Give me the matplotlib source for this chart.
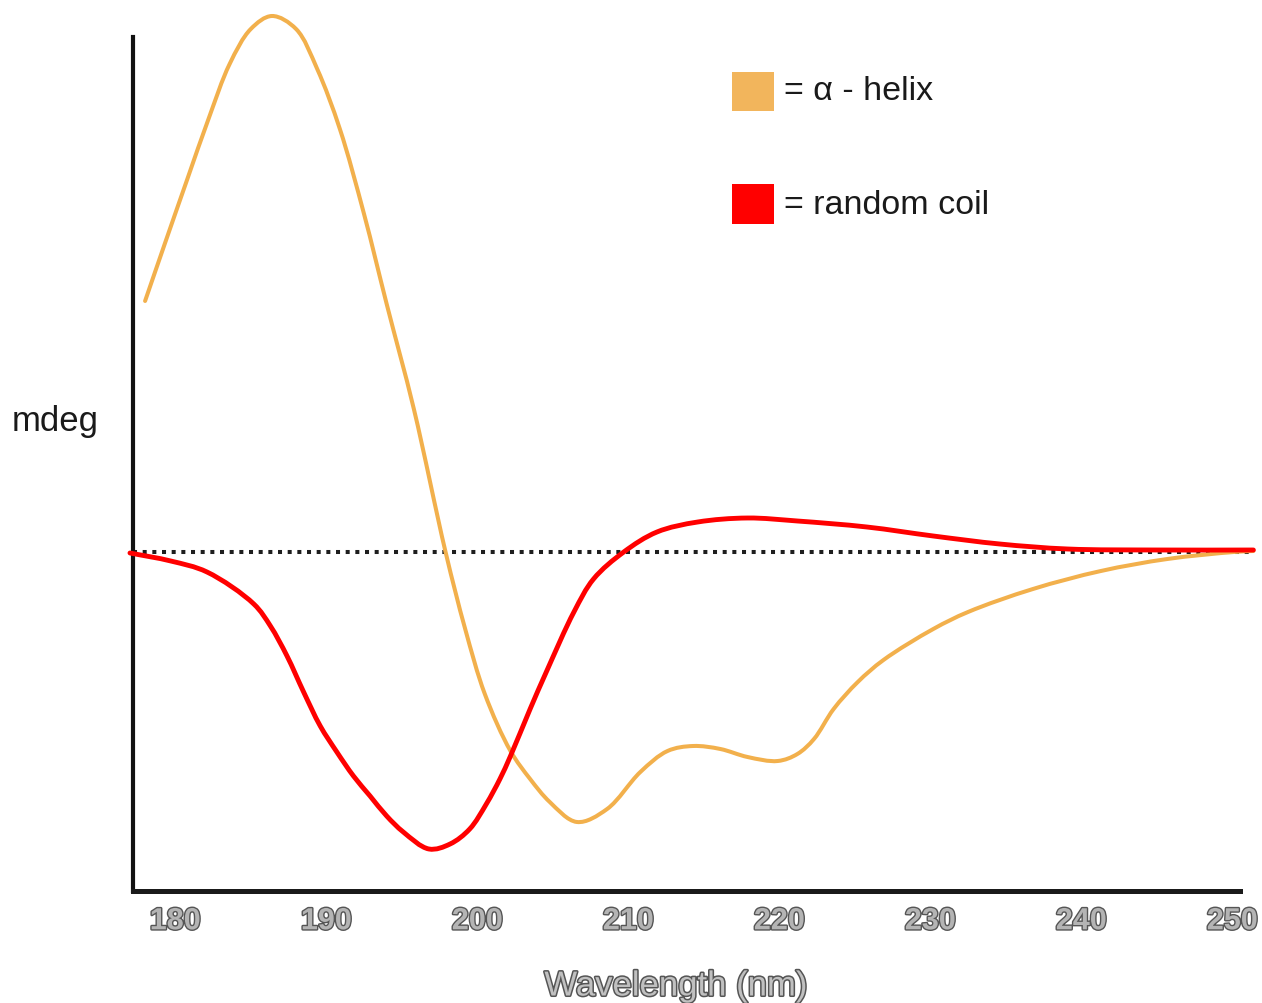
import matplotlib
matplotlib.use("Agg")
import matplotlib.pyplot as plt
import matplotlib.patheffects as pe
from matplotlib.patches import Rectangle, PathPatch
from matplotlib.path import Path

# Wavelength (nm) and ellipticity (arbitrary mdeg units) for each secondary structure
helix_wl = [178.0, 179.3, 180.8, 182.2, 183.6, 185.0, 186.4, 188.0, 189.4, 190.9,
            192.5, 194.0, 195.8, 197.9, 199.2, 200.5, 202.2, 203.5, 204.8, 206.6,
            208.6, 210.8, 212.6, 214.3, 216.1, 217.9, 219.9, 221.2, 222.3, 223.6,
            225.2, 226.9, 230.2, 232.5, 236.8, 241.3, 245.7, 250.1, 251.4]
helix_mdeg = [25.1, 30.8, 37.3, 43.3, 48.8, 52.3, 53.6, 52.3, 48.3, 42.3,
              33.8, 24.8, 14.3, 0.0, -7.7, -14.2, -19.9, -22.7, -25.0, -27.0,
              -25.7, -22.0, -19.9, -19.4, -19.7, -20.5, -20.9, -20.2, -18.7, -15.7,
              -13.0, -10.8, -7.7, -6.0, -3.7, -1.9, -0.7, 0.0, 0.1]

coil_wl = [177.0, 179.7, 182.1, 185.2, 186.3, 187.4, 188.5, 189.6, 190.7, 191.8,
           192.9, 194.0, 195.1, 196.8, 198.2, 199.5, 200.6, 201.5, 202.2, 203.5,
           204.6, 206.4, 207.7, 209.7, 211.9, 214.6, 217.9, 221.2, 225.8, 230.2,
           234.6, 239.1, 245.2, 251.4]
coil_mdeg = [-0.1, -0.9, -2.0, -5.2, -7.4, -10.4, -14.0, -17.4, -20.0, -22.4,
             -24.4, -26.4, -28.0, -29.7, -29.2, -27.7, -25.2, -22.7, -20.4, -15.7,
             -11.9, -6.0, -2.7, 0.0, 2.0, 3.0, 3.4, 3.1, 2.5, 1.6,
             0.8, 0.3, 0.2, 0.2]

tick_wl = [180, 190, 200, 210, 220, 230, 240, 250]
tick_labels = ["180", "190", "200", "210", "220", "230", "240", "250"]

helix_color = "#F2B04C"
coil_color = "#FF0000"

# relative screen size of one nm and one mdeg unit, used for curve parametrisation
SX, SY = 15.1, 10.0


def smooth_path(xs, ys, alpha=0.5):
    """Centripetal Catmull-Rom curve through the points, as cubic Bezier segments."""
    pts = [(x * SX, y * SY) for x, y in zip(xs, ys)]
    first = (2 * pts[0][0] - pts[1][0], 2 * pts[0][1] - pts[1][1])
    last = (2 * pts[-1][0] - pts[-2][0], 2 * pts[-1][1] - pts[-2][1])
    ext = [first] + pts + [last]

    def dist(a, b):
        return max(((a[0] - b[0]) ** 2 + (a[1] - b[1]) ** 2) ** (alpha / 2), 1e-6)

    verts = [pts[0]]
    codes = [Path.MOVETO]
    for i in range(1, len(ext) - 2):
        p0, p1, p2, p3 = ext[i - 1], ext[i], ext[i + 1], ext[i + 2]
        d0, d1, d2 = dist(p0, p1), dist(p1, p2), dist(p2, p3)
        m1 = [d1 * ((p1[k] - p0[k]) / d0 - (p2[k] - p0[k]) / (d0 + d1)
                    + (p2[k] - p1[k]) / d1) for k in (0, 1)]
        m2 = [d1 * ((p2[k] - p1[k]) / d1 - (p3[k] - p1[k]) / (d1 + d2)
                    + (p3[k] - p2[k]) / d2) for k in (0, 1)]
        c1 = (p1[0] + m1[0] / 3, p1[1] + m1[1] / 3)
        c2 = (p2[0] - m2[0] / 3, p2[1] - m2[1] / 3)
        verts += [c1, c2, p2]
        codes += [Path.CURVE4] * 3
    verts = [(x / SX, y / SY) for x, y in verts]
    return Path(verts, codes)


W, H = 1262, 1004
fig = plt.figure(figsize=(W / 100, H / 100), dpi=100)
fig.patch.set_facecolor("white")

ax = fig.add_axes([133 / W, (H - 892) / H, (W - 133) / W, 892 / H])
ax.set_facecolor("none")
ax.set_xlim(177.2, 251.97)
ax.set_ylim(-33.9, 55.3)

# zero baseline
ax.plot([177.2, 251.4], [0, 0], color="#1e1e1e", lw=2.9,
        linestyle=(0, (1, 1.4)), dash_capstyle="butt", zorder=1)

ax.add_patch(PathPatch(smooth_path(helix_wl, helix_mdeg), facecolor="none",
                       edgecolor=helix_color, lw=2.9, capstyle="round",
                       joinstyle="round", clip_on=False, zorder=3))
ax.add_patch(PathPatch(smooth_path(coil_wl, coil_mdeg), facecolor="none",
                       edgecolor=coil_color, lw=3.5, capstyle="round",
                       joinstyle="round", clip_on=False, zorder=4))

for side in ("top", "right"):
    ax.spines[side].set_visible(False)
ax.spines["left"].set_linewidth(3.0)
ax.spines["left"].set_color("#111111")
ax.spines["left"].set_bounds(-33.9, 51.5)
ax.spines["bottom"].set_linewidth(3.6)
ax.spines["bottom"].set_color("#1a1a1a")
ax.spines["bottom"].set_bounds(177.2, 250.5)

ax.set_yticks([])
ax.set_xticks(tick_wl)
ax.set_xticklabels(tick_labels)
ax.tick_params(axis="x", length=0, pad=11)
outline = [pe.withStroke(linewidth=2.0, foreground="#555555")]
for lab in ax.get_xticklabels():
    lab.set_fontfamily("Liberation Sans")
    lab.set_fontweight("bold")
    lab.set_fontsize(22)
    lab.set_color("#b4b4b4")
    lab.set_path_effects(outline)

fig.text(676 / W, 1 - 987 / H, "Wavelength (nm)", ha="center", va="center",
         fontsize=25, family="Liberation Sans", color="#c0c0c0",
         path_effects=[pe.withStroke(linewidth=2.2, foreground="#555555")])

fig.text(12 / W, 1 - 422 / H, "mdeg", ha="left", va="center",
         fontsize=25, family="Liberation Sans", color="#1a1a1a")

# legend swatches and labels
fig.add_artist(Rectangle((732 / W, 1 - 112 / H), 42 / W, 39 / H,
                         transform=fig.transFigure, facecolor="#F2B55C",
                         edgecolor="none"))
fig.add_artist(Rectangle((732 / W, 1 - 225 / H), 42 / W, 40 / H,
                         transform=fig.transFigure, facecolor="#FF0000",
                         edgecolor="none"))
fig.text(784 / W, 1 - 92 / H, "= \u03b1 - helix", ha="left", va="center",
         fontsize=24.5, family="Liberation Sans", color="#1a1a1a")
fig.text(784 / W, 1 - 206 / H, "= random coil", ha="left", va="center",
         fontsize=24.5, family="Liberation Sans", color="#1a1a1a")

fig.savefig("out.png", dpi=100, facecolor="white")
